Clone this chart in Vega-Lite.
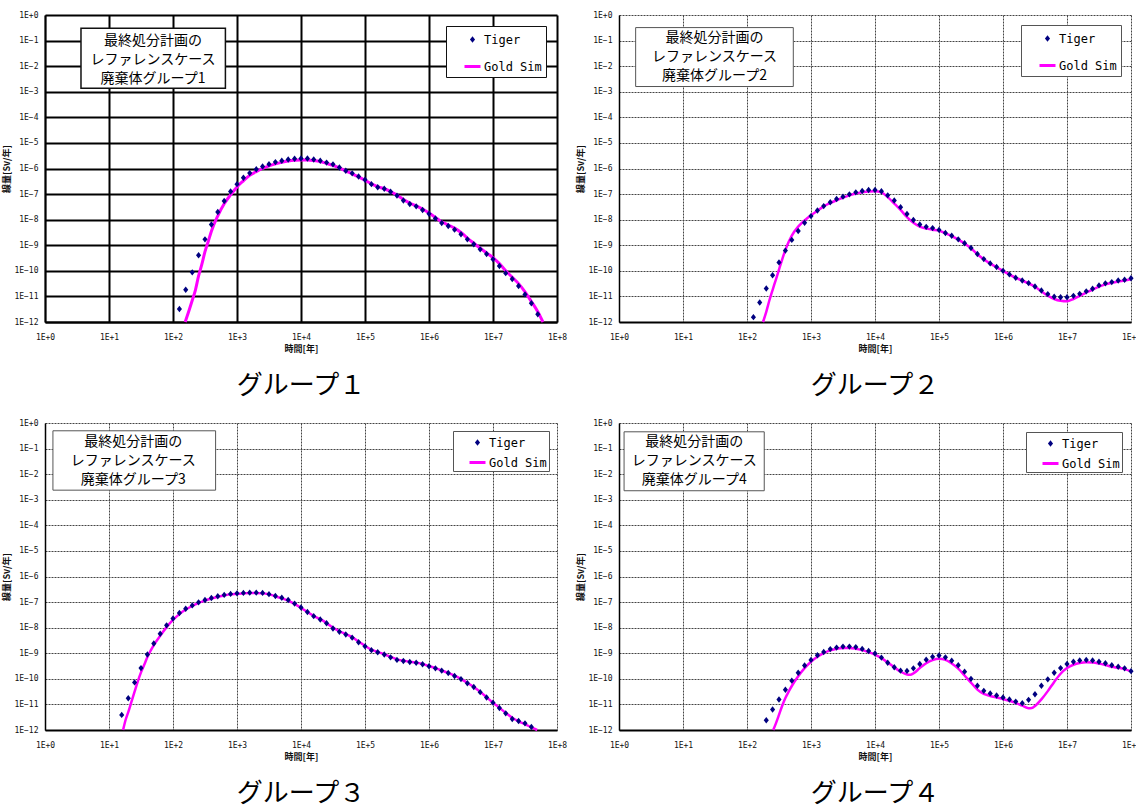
{
"$schema": "https://vega.github.io/schema/vega-lite/v6.json",
"background": "white",
"padding": {"left": 2, "top": 11, "right": 0, "bottom": 0},
"config": {
  "view": {"stroke": null},
  "font": "Noto Sans CJK JP",
  "axis": {"labelFont": "DejaVu Sans Mono", "labelFontSize": 8, "labelColor": "#111", "ticks": false, "labelFlush": false, "labelOverlap": false, "titleFont": "Noto Sans CJK JP", "titleFontSize": 9, "titleFontWeight": "bold", "titleColor": "#111", "grid": true, "gridColor": "#444", "gridDash": [2, 1], "gridWidth": 1, "domainColor": "black"},
  "axisX": {"labelPadding": 11, "titlePadding": 3, "domainWidth": 2},
  "axisY": {"labelPadding": 7, "titlePadding": 2, "domainWidth": 1.5},
  "legend": {"labelFont": "DejaVu Sans Mono", "labelFontSize": 12, "labelColor": "black", "symbolSize": 256, "symbolStrokeWidth": 3, "symbolOffset": 13, "labelOffset": 2}
},
"datasets": {
"t1": [{"s":"Tiger","t":1.26e2,"d":3.24e-12},{"s":"Tiger","t":1.58e2,"d":1.82e-11},{"s":"Tiger","t":2.0e2,"d":8.71e-11},{"s":"Tiger","t":2.51e2,"d":4.07e-10},{"s":"Tiger","t":3.16e2,"d":1.70e-9},{"s":"Tiger","t":3.98e2,"d":6.46e-9},{"s":"Tiger","t":5.01e2,"d":2.0e-8},{"s":"Tiger","t":6.31e2,"d":5.37e-8},{"s":"Tiger","t":7.94e2,"d":1.26e-7},{"s":"Tiger","t":1.0e3,"d":2.45e-7},{"s":"Tiger","t":1.26e3,"d":4.37e-7},{"s":"Tiger","t":1.58e3,"d":6.61e-7},{"s":"Tiger","t":2.0e3,"d":9.33e-7},{"s":"Tiger","t":2.51e3,"d":1.20e-6},{"s":"Tiger","t":3.16e3,"d":1.48e-6},{"s":"Tiger","t":3.98e3,"d":1.78e-6},{"s":"Tiger","t":5.01e3,"d":2.0e-6},{"s":"Tiger","t":6.31e3,"d":2.24e-6},{"s":"Tiger","t":7.94e3,"d":2.40e-6},{"s":"Tiger","t":1.0e4,"d":2.45e-6},{"s":"Tiger","t":1.26e4,"d":2.45e-6},{"s":"Tiger","t":1.58e4,"d":2.24e-6},{"s":"Tiger","t":2.0e4,"d":2.0e-6},{"s":"Tiger","t":2.51e4,"d":1.70e-6},{"s":"Tiger","t":3.16e4,"d":1.45e-6},{"s":"Tiger","t":3.98e4,"d":1.10e-6},{"s":"Tiger","t":5.01e4,"d":8.13e-7},{"s":"Tiger","t":6.31e4,"d":6.46e-7},{"s":"Tiger","t":7.94e4,"d":4.90e-7},{"s":"Tiger","t":1.0e5,"d":3.63e-7},{"s":"Tiger","t":1.26e5,"d":2.45e-7},{"s":"Tiger","t":1.58e5,"d":1.86e-7},{"s":"Tiger","t":2.0e5,"d":1.62e-7},{"s":"Tiger","t":2.51e5,"d":1.23e-7},{"s":"Tiger","t":3.16e5,"d":8.71e-8},{"s":"Tiger","t":3.98e5,"d":5.62e-8},{"s":"Tiger","t":5.01e5,"d":4.07e-8},{"s":"Tiger","t":6.31e5,"d":3.31e-8},{"s":"Tiger","t":7.94e5,"d":2.40e-8},{"s":"Tiger","t":1.0e6,"d":1.70e-8},{"s":"Tiger","t":1.26e6,"d":1.12e-8},{"s":"Tiger","t":1.58e6,"d":7.41e-9},{"s":"Tiger","t":2.0e6,"d":5.62e-9},{"s":"Tiger","t":2.51e6,"d":4.07e-9},{"s":"Tiger","t":3.16e6,"d":2.69e-9},{"s":"Tiger","t":3.98e6,"d":1.70e-9},{"s":"Tiger","t":5.01e6,"d":1.10e-9},{"s":"Tiger","t":6.31e6,"d":6.92e-10},{"s":"Tiger","t":7.94e6,"d":4.57e-10},{"s":"Tiger","t":1.0e7,"d":2.82e-10},{"s":"Tiger","t":1.26e7,"d":1.55e-10},{"s":"Tiger","t":1.58e7,"d":8.13e-11},{"s":"Tiger","t":2.0e7,"d":4.79e-11},{"s":"Tiger","t":2.51e7,"d":2.57e-11},{"s":"Tiger","t":3.16e7,"d":1.20e-11},{"s":"Tiger","t":3.98e7,"d":5.37e-12},{"s":"Tiger","t":5.01e7,"d":2.0e-12}],
"g1": [{"s":"Gold Sim","t":1.55e2,"d":1.0e-12},{"s":"Gold Sim","t":1.78e2,"d":2.82e-12},{"s":"Gold Sim","t":2.0e2,"d":7.08e-12},{"s":"Gold Sim","t":2.24e2,"d":1.78e-11},{"s":"Gold Sim","t":2.51e2,"d":6.31e-11},{"s":"Gold Sim","t":2.82e2,"d":1.78e-10},{"s":"Gold Sim","t":3.16e2,"d":5.62e-10},{"s":"Gold Sim","t":3.55e2,"d":1.41e-9},{"s":"Gold Sim","t":3.98e2,"d":3.55e-9},{"s":"Gold Sim","t":5.01e2,"d":1.41e-8},{"s":"Gold Sim","t":6.31e2,"d":4.17e-8},{"s":"Gold Sim","t":7.94e2,"d":9.33e-8},{"s":"Gold Sim","t":1.0e3,"d":1.91e-7},{"s":"Gold Sim","t":1.26e3,"d":3.31e-7},{"s":"Gold Sim","t":1.58e3,"d":5.37e-7},{"s":"Gold Sim","t":2.0e3,"d":7.59e-7},{"s":"Gold Sim","t":2.51e3,"d":1.0e-6},{"s":"Gold Sim","t":3.16e3,"d":1.26e-6},{"s":"Gold Sim","t":3.98e3,"d":1.51e-6},{"s":"Gold Sim","t":5.01e3,"d":1.74e-6},{"s":"Gold Sim","t":6.31e3,"d":1.95e-6},{"s":"Gold Sim","t":7.94e3,"d":2.09e-6},{"s":"Gold Sim","t":1.0e4,"d":2.14e-6},{"s":"Gold Sim","t":1.26e4,"d":2.14e-6},{"s":"Gold Sim","t":1.58e4,"d":2.04e-6},{"s":"Gold Sim","t":2.0e4,"d":1.86e-6},{"s":"Gold Sim","t":2.51e4,"d":1.58e-6},{"s":"Gold Sim","t":3.16e4,"d":1.32e-6},{"s":"Gold Sim","t":3.98e4,"d":1.05e-6},{"s":"Gold Sim","t":5.01e4,"d":7.94e-7},{"s":"Gold Sim","t":6.31e4,"d":6.17e-7},{"s":"Gold Sim","t":7.94e4,"d":4.68e-7},{"s":"Gold Sim","t":1.0e5,"d":3.47e-7},{"s":"Gold Sim","t":1.26e5,"d":2.51e-7},{"s":"Gold Sim","t":1.58e5,"d":1.95e-7},{"s":"Gold Sim","t":2.0e5,"d":1.62e-7},{"s":"Gold Sim","t":2.51e5,"d":1.26e-7},{"s":"Gold Sim","t":3.16e5,"d":9.12e-8},{"s":"Gold Sim","t":3.98e5,"d":6.17e-8},{"s":"Gold Sim","t":5.01e5,"d":4.47e-8},{"s":"Gold Sim","t":6.31e5,"d":3.47e-8},{"s":"Gold Sim","t":7.94e5,"d":2.57e-8},{"s":"Gold Sim","t":1.0e6,"d":1.82e-8},{"s":"Gold Sim","t":1.26e6,"d":1.23e-8},{"s":"Gold Sim","t":1.58e6,"d":8.32e-9},{"s":"Gold Sim","t":2.0e6,"d":6.17e-9},{"s":"Gold Sim","t":2.51e6,"d":4.68e-9},{"s":"Gold Sim","t":3.16e6,"d":3.16e-9},{"s":"Gold Sim","t":3.98e6,"d":1.91e-9},{"s":"Gold Sim","t":5.01e6,"d":1.20e-9},{"s":"Gold Sim","t":6.31e6,"d":7.59e-10},{"s":"Gold Sim","t":7.94e6,"d":5.01e-10},{"s":"Gold Sim","t":1.0e7,"d":3.31e-10},{"s":"Gold Sim","t":1.26e7,"d":1.91e-10},{"s":"Gold Sim","t":1.58e7,"d":1.0e-10},{"s":"Gold Sim","t":2.0e7,"d":5.62e-11},{"s":"Gold Sim","t":2.51e7,"d":3.16e-11},{"s":"Gold Sim","t":3.16e7,"d":1.51e-11},{"s":"Gold Sim","t":3.98e7,"d":6.31e-12},{"s":"Gold Sim","t":5.01e7,"d":2.51e-12},{"s":"Gold Sim","t":6.03e7,"d":1.0e-12}],
"t2": [{"s":"Tiger","t":1.26e2,"d":1.55e-12},{"s":"Tiger","t":1.58e2,"d":5.75e-12},{"s":"Tiger","t":2.0e2,"d":2.04e-11},{"s":"Tiger","t":2.51e2,"d":6.76e-11},{"s":"Tiger","t":3.16e2,"d":2.14e-10},{"s":"Tiger","t":3.98e2,"d":6.17e-10},{"s":"Tiger","t":5.01e2,"d":1.62e-9},{"s":"Tiger","t":6.31e2,"d":3.63e-9},{"s":"Tiger","t":7.94e2,"d":7.59e-9},{"s":"Tiger","t":1.0e3,"d":1.38e-8},{"s":"Tiger","t":1.26e3,"d":2.29e-8},{"s":"Tiger","t":1.58e3,"d":3.39e-8},{"s":"Tiger","t":2.0e3,"d":4.79e-8},{"s":"Tiger","t":2.51e3,"d":6.46e-8},{"s":"Tiger","t":3.16e3,"d":7.94e-8},{"s":"Tiger","t":3.98e3,"d":9.77e-8},{"s":"Tiger","t":5.01e3,"d":1.17e-7},{"s":"Tiger","t":6.31e3,"d":1.32e-7},{"s":"Tiger","t":7.94e3,"d":1.45e-7},{"s":"Tiger","t":1.0e4,"d":1.45e-7},{"s":"Tiger","t":1.26e4,"d":1.29e-7},{"s":"Tiger","t":1.58e4,"d":8.91e-8},{"s":"Tiger","t":2.0e4,"d":5.62e-8},{"s":"Tiger","t":2.51e4,"d":3.09e-8},{"s":"Tiger","t":3.16e4,"d":1.66e-8},{"s":"Tiger","t":3.98e4,"d":9.77e-9},{"s":"Tiger","t":5.01e4,"d":6.46e-9},{"s":"Tiger","t":6.31e4,"d":5.25e-9},{"s":"Tiger","t":7.94e4,"d":4.68e-9},{"s":"Tiger","t":1.0e5,"d":3.98e-9},{"s":"Tiger","t":1.26e5,"d":3.02e-9},{"s":"Tiger","t":1.58e5,"d":2.34e-9},{"s":"Tiger","t":2.0e5,"d":1.70e-9},{"s":"Tiger","t":2.51e5,"d":1.20e-9},{"s":"Tiger","t":3.16e5,"d":7.76e-10},{"s":"Tiger","t":3.98e5,"d":4.57e-10},{"s":"Tiger","t":5.01e5,"d":2.88e-10},{"s":"Tiger","t":6.31e5,"d":1.95e-10},{"s":"Tiger","t":7.94e5,"d":1.41e-10},{"s":"Tiger","t":1.0e6,"d":1.0e-10},{"s":"Tiger","t":1.26e6,"d":7.24e-11},{"s":"Tiger","t":1.58e6,"d":5.37e-11},{"s":"Tiger","t":2.0e6,"d":4.17e-11},{"s":"Tiger","t":2.51e6,"d":3.31e-11},{"s":"Tiger","t":3.16e6,"d":2.45e-11},{"s":"Tiger","t":3.98e6,"d":1.70e-11},{"s":"Tiger","t":5.01e6,"d":1.23e-11},{"s":"Tiger","t":6.31e6,"d":9.77e-12},{"s":"Tiger","t":7.94e6,"d":9.33e-12},{"s":"Tiger","t":1.0e7,"d":9.33e-12},{"s":"Tiger","t":1.26e7,"d":1.05e-11},{"s":"Tiger","t":1.58e7,"d":1.26e-11},{"s":"Tiger","t":2.0e7,"d":1.58e-11},{"s":"Tiger","t":2.51e7,"d":2.0e-11},{"s":"Tiger","t":3.16e7,"d":2.69e-11},{"s":"Tiger","t":3.98e7,"d":3.24e-11},{"s":"Tiger","t":5.01e7,"d":3.63e-11},{"s":"Tiger","t":6.31e7,"d":4.17e-11},{"s":"Tiger","t":7.94e7,"d":4.47e-11},{"s":"Tiger","t":1.0e8,"d":5.13e-11}],
"g2": [{"s":"Gold Sim","t":1.78e2,"d":1.0e-12},{"s":"Gold Sim","t":2.0e2,"d":2.51e-12},{"s":"Gold Sim","t":2.24e2,"d":7.08e-12},{"s":"Gold Sim","t":2.51e2,"d":1.78e-11},{"s":"Gold Sim","t":2.82e2,"d":4.47e-11},{"s":"Gold Sim","t":3.16e2,"d":1.12e-10},{"s":"Gold Sim","t":3.55e2,"d":2.82e-10},{"s":"Gold Sim","t":3.98e2,"d":6.61e-10},{"s":"Gold Sim","t":5.01e2,"d":2.40e-9},{"s":"Gold Sim","t":6.31e2,"d":5.37e-9},{"s":"Gold Sim","t":7.94e2,"d":9.33e-9},{"s":"Gold Sim","t":1.0e3,"d":1.48e-8},{"s":"Gold Sim","t":1.26e3,"d":2.24e-8},{"s":"Gold Sim","t":1.58e3,"d":3.31e-8},{"s":"Gold Sim","t":2.0e3,"d":4.47e-8},{"s":"Gold Sim","t":2.51e3,"d":5.75e-8},{"s":"Gold Sim","t":3.16e3,"d":7.24e-8},{"s":"Gold Sim","t":3.98e3,"d":8.91e-8},{"s":"Gold Sim","t":5.01e3,"d":1.05e-7},{"s":"Gold Sim","t":6.31e3,"d":1.17e-7},{"s":"Gold Sim","t":7.94e3,"d":1.26e-7},{"s":"Gold Sim","t":1.0e4,"d":1.29e-7},{"s":"Gold Sim","t":1.26e4,"d":1.17e-7},{"s":"Gold Sim","t":1.58e4,"d":7.59e-8},{"s":"Gold Sim","t":2.0e4,"d":4.27e-8},{"s":"Gold Sim","t":2.51e4,"d":2.40e-8},{"s":"Gold Sim","t":3.16e4,"d":1.26e-8},{"s":"Gold Sim","t":3.98e4,"d":7.59e-9},{"s":"Gold Sim","t":5.01e4,"d":5.37e-9},{"s":"Gold Sim","t":6.31e4,"d":4.47e-9},{"s":"Gold Sim","t":7.94e4,"d":4.07e-9},{"s":"Gold Sim","t":1.0e5,"d":3.72e-9},{"s":"Gold Sim","t":1.26e5,"d":2.95e-9},{"s":"Gold Sim","t":1.58e5,"d":2.29e-9},{"s":"Gold Sim","t":2.0e5,"d":1.66e-9},{"s":"Gold Sim","t":2.51e5,"d":1.17e-9},{"s":"Gold Sim","t":3.16e5,"d":7.59e-10},{"s":"Gold Sim","t":3.98e5,"d":4.47e-10},{"s":"Gold Sim","t":5.01e5,"d":2.82e-10},{"s":"Gold Sim","t":6.31e5,"d":1.91e-10},{"s":"Gold Sim","t":7.94e5,"d":1.38e-10},{"s":"Gold Sim","t":1.0e6,"d":1.0e-10},{"s":"Gold Sim","t":1.26e6,"d":7.24e-11},{"s":"Gold Sim","t":1.58e6,"d":5.37e-11},{"s":"Gold Sim","t":2.0e6,"d":4.17e-11},{"s":"Gold Sim","t":2.51e6,"d":3.24e-11},{"s":"Gold Sim","t":3.16e6,"d":2.40e-11},{"s":"Gold Sim","t":3.98e6,"d":1.58e-11},{"s":"Gold Sim","t":5.01e6,"d":1.07e-11},{"s":"Gold Sim","t":6.31e6,"d":7.94e-12},{"s":"Gold Sim","t":7.94e6,"d":6.76e-12},{"s":"Gold Sim","t":1.0e7,"d":6.46e-12},{"s":"Gold Sim","t":1.26e7,"d":7.94e-12},{"s":"Gold Sim","t":1.58e7,"d":1.05e-11},{"s":"Gold Sim","t":2.0e7,"d":1.41e-11},{"s":"Gold Sim","t":2.51e7,"d":1.86e-11},{"s":"Gold Sim","t":3.16e7,"d":2.40e-11},{"s":"Gold Sim","t":3.98e7,"d":2.95e-11},{"s":"Gold Sim","t":5.01e7,"d":3.39e-11},{"s":"Gold Sim","t":6.31e7,"d":3.80e-11},{"s":"Gold Sim","t":7.94e7,"d":4.17e-11},{"s":"Gold Sim","t":1.0e8,"d":4.68e-11}],
"t3": [{"s":"Tiger","t":1.58e1,"d":3.89e-12},{"s":"Tiger","t":2.0e1,"d":1.74e-11},{"s":"Tiger","t":2.51e1,"d":7.24e-11},{"s":"Tiger","t":3.16e1,"d":2.63e-10},{"s":"Tiger","t":3.98e1,"d":8.91e-10},{"s":"Tiger","t":5.01e1,"d":2.40e-9},{"s":"Tiger","t":6.31e1,"d":5.75e-9},{"s":"Tiger","t":7.94e1,"d":1.23e-8},{"s":"Tiger","t":1.0e2,"d":2.29e-8},{"s":"Tiger","t":1.26e2,"d":3.72e-8},{"s":"Tiger","t":1.58e2,"d":5.50e-8},{"s":"Tiger","t":2.0e2,"d":7.41e-8},{"s":"Tiger","t":2.51e2,"d":9.77e-8},{"s":"Tiger","t":3.16e2,"d":1.20e-7},{"s":"Tiger","t":3.98e2,"d":1.45e-7},{"s":"Tiger","t":5.01e2,"d":1.70e-7},{"s":"Tiger","t":6.31e2,"d":1.91e-7},{"s":"Tiger","t":7.94e2,"d":2.09e-7},{"s":"Tiger","t":1.0e3,"d":2.19e-7},{"s":"Tiger","t":1.26e3,"d":2.29e-7},{"s":"Tiger","t":1.58e3,"d":2.34e-7},{"s":"Tiger","t":2.0e3,"d":2.34e-7},{"s":"Tiger","t":2.51e3,"d":2.29e-7},{"s":"Tiger","t":3.16e3,"d":2.04e-7},{"s":"Tiger","t":3.98e3,"d":1.74e-7},{"s":"Tiger","t":5.01e3,"d":1.48e-7},{"s":"Tiger","t":6.31e3,"d":1.20e-7},{"s":"Tiger","t":7.94e3,"d":8.71e-8},{"s":"Tiger","t":1.0e4,"d":6.17e-8},{"s":"Tiger","t":1.26e4,"d":4.07e-8},{"s":"Tiger","t":1.58e4,"d":2.82e-8},{"s":"Tiger","t":2.0e4,"d":2.09e-8},{"s":"Tiger","t":2.51e4,"d":1.48e-8},{"s":"Tiger","t":3.16e4,"d":9.33e-9},{"s":"Tiger","t":3.98e4,"d":6.92e-9},{"s":"Tiger","t":5.01e4,"d":5.37e-9},{"s":"Tiger","t":6.31e4,"d":4.07e-9},{"s":"Tiger","t":7.94e4,"d":2.69e-9},{"s":"Tiger","t":1.0e5,"d":1.86e-9},{"s":"Tiger","t":1.26e5,"d":1.32e-9},{"s":"Tiger","t":1.58e5,"d":1.10e-9},{"s":"Tiger","t":2.0e5,"d":8.91e-10},{"s":"Tiger","t":2.51e5,"d":6.92e-10},{"s":"Tiger","t":3.16e5,"d":5.50e-10},{"s":"Tiger","t":3.98e5,"d":5.01e-10},{"s":"Tiger","t":5.01e5,"d":4.57e-10},{"s":"Tiger","t":6.31e5,"d":4.27e-10},{"s":"Tiger","t":7.94e5,"d":3.72e-10},{"s":"Tiger","t":1.0e6,"d":3.09e-10},{"s":"Tiger","t":1.26e6,"d":2.57e-10},{"s":"Tiger","t":1.58e6,"d":2.09e-10},{"s":"Tiger","t":2.0e6,"d":1.70e-10},{"s":"Tiger","t":2.51e6,"d":1.29e-10},{"s":"Tiger","t":3.16e6,"d":9.77e-11},{"s":"Tiger","t":3.98e6,"d":6.76e-11},{"s":"Tiger","t":5.01e6,"d":4.79e-11},{"s":"Tiger","t":6.31e6,"d":3.02e-11},{"s":"Tiger","t":7.94e6,"d":1.86e-11},{"s":"Tiger","t":1.0e7,"d":1.17e-11},{"s":"Tiger","t":1.26e7,"d":7.24e-12},{"s":"Tiger","t":1.58e7,"d":4.47e-12},{"s":"Tiger","t":2.0e7,"d":2.69e-12},{"s":"Tiger","t":2.51e7,"d":2.24e-12},{"s":"Tiger","t":3.16e7,"d":1.82e-12},{"s":"Tiger","t":3.98e7,"d":1.32e-12}],
"g3": [{"s":"Gold Sim","t":1.66e1,"d":1.0e-12},{"s":"Gold Sim","t":1.82e1,"d":2.51e-12},{"s":"Gold Sim","t":2.0e1,"d":5.01e-12},{"s":"Gold Sim","t":2.24e1,"d":1.26e-11},{"s":"Gold Sim","t":2.51e1,"d":3.16e-11},{"s":"Gold Sim","t":2.82e1,"d":7.94e-11},{"s":"Gold Sim","t":3.16e1,"d":1.78e-10},{"s":"Gold Sim","t":3.55e1,"d":3.55e-10},{"s":"Gold Sim","t":3.98e1,"d":7.08e-10},{"s":"Gold Sim","t":4.47e1,"d":1.26e-9},{"s":"Gold Sim","t":5.01e1,"d":2.09e-9},{"s":"Gold Sim","t":6.31e1,"d":4.79e-9},{"s":"Gold Sim","t":7.94e1,"d":1.05e-8},{"s":"Gold Sim","t":1.0e2,"d":2.0e-8},{"s":"Gold Sim","t":1.26e2,"d":3.39e-8},{"s":"Gold Sim","t":1.58e2,"d":5.13e-8},{"s":"Gold Sim","t":2.0e2,"d":7.08e-8},{"s":"Gold Sim","t":2.51e2,"d":9.33e-8},{"s":"Gold Sim","t":3.16e2,"d":1.15e-7},{"s":"Gold Sim","t":3.98e2,"d":1.38e-7},{"s":"Gold Sim","t":5.01e2,"d":1.62e-7},{"s":"Gold Sim","t":6.31e2,"d":1.82e-7},{"s":"Gold Sim","t":7.94e2,"d":2.0e-7},{"s":"Gold Sim","t":1.0e3,"d":2.09e-7},{"s":"Gold Sim","t":1.26e3,"d":2.19e-7},{"s":"Gold Sim","t":1.58e3,"d":2.24e-7},{"s":"Gold Sim","t":2.0e3,"d":2.24e-7},{"s":"Gold Sim","t":2.51e3,"d":2.19e-7},{"s":"Gold Sim","t":3.16e3,"d":2.0e-7},{"s":"Gold Sim","t":3.98e3,"d":1.70e-7},{"s":"Gold Sim","t":5.01e3,"d":1.41e-7},{"s":"Gold Sim","t":6.31e3,"d":1.15e-7},{"s":"Gold Sim","t":7.94e3,"d":8.51e-8},{"s":"Gold Sim","t":1.0e4,"d":6.03e-8},{"s":"Gold Sim","t":1.26e4,"d":4.07e-8},{"s":"Gold Sim","t":1.58e4,"d":2.88e-8},{"s":"Gold Sim","t":2.0e4,"d":2.14e-8},{"s":"Gold Sim","t":2.51e4,"d":1.51e-8},{"s":"Gold Sim","t":3.16e4,"d":1.0e-8},{"s":"Gold Sim","t":3.98e4,"d":7.24e-9},{"s":"Gold Sim","t":5.01e4,"d":5.62e-9},{"s":"Gold Sim","t":6.31e4,"d":4.27e-9},{"s":"Gold Sim","t":7.94e4,"d":2.88e-9},{"s":"Gold Sim","t":1.0e5,"d":1.95e-9},{"s":"Gold Sim","t":1.26e5,"d":1.38e-9},{"s":"Gold Sim","t":1.58e5,"d":1.12e-9},{"s":"Gold Sim","t":2.0e5,"d":9.12e-10},{"s":"Gold Sim","t":2.51e5,"d":7.24e-10},{"s":"Gold Sim","t":3.16e5,"d":5.75e-10},{"s":"Gold Sim","t":3.98e5,"d":5.13e-10},{"s":"Gold Sim","t":5.01e5,"d":4.68e-10},{"s":"Gold Sim","t":6.31e5,"d":4.27e-10},{"s":"Gold Sim","t":7.94e5,"d":3.80e-10},{"s":"Gold Sim","t":1.0e6,"d":3.16e-10},{"s":"Gold Sim","t":1.26e6,"d":2.63e-10},{"s":"Gold Sim","t":1.58e6,"d":2.14e-10},{"s":"Gold Sim","t":2.0e6,"d":1.70e-10},{"s":"Gold Sim","t":2.51e6,"d":1.32e-10},{"s":"Gold Sim","t":3.16e6,"d":9.77e-11},{"s":"Gold Sim","t":3.98e6,"d":6.92e-11},{"s":"Gold Sim","t":5.01e6,"d":4.79e-11},{"s":"Gold Sim","t":6.31e6,"d":3.09e-11},{"s":"Gold Sim","t":7.94e6,"d":1.91e-11},{"s":"Gold Sim","t":1.0e7,"d":1.17e-11},{"s":"Gold Sim","t":1.26e7,"d":7.41e-12},{"s":"Gold Sim","t":1.58e7,"d":4.68e-12},{"s":"Gold Sim","t":2.0e7,"d":3.02e-12},{"s":"Gold Sim","t":2.51e7,"d":2.19e-12},{"s":"Gold Sim","t":3.16e7,"d":1.70e-12},{"s":"Gold Sim","t":3.98e7,"d":1.26e-12},{"s":"Gold Sim","t":4.90e7,"d":1.0e-12}],
"t4": [{"s":"Tiger","t":2.0e2,"d":2.40e-12},{"s":"Tiger","t":2.51e2,"d":6.31e-12},{"s":"Tiger","t":3.16e2,"d":1.55e-11},{"s":"Tiger","t":3.98e2,"d":3.72e-11},{"s":"Tiger","t":5.01e2,"d":8.51e-11},{"s":"Tiger","t":6.31e2,"d":1.74e-10},{"s":"Tiger","t":7.94e2,"d":3.31e-10},{"s":"Tiger","t":1.0e3,"d":5.50e-10},{"s":"Tiger","t":1.26e3,"d":8.32e-10},{"s":"Tiger","t":1.58e3,"d":1.12e-9},{"s":"Tiger","t":2.0e3,"d":1.45e-9},{"s":"Tiger","t":2.51e3,"d":1.66e-9},{"s":"Tiger","t":3.16e3,"d":1.82e-9},{"s":"Tiger","t":3.98e3,"d":1.82e-9},{"s":"Tiger","t":5.01e3,"d":1.74e-9},{"s":"Tiger","t":6.31e3,"d":1.48e-9},{"s":"Tiger","t":7.94e3,"d":1.23e-9},{"s":"Tiger","t":1.0e4,"d":9.77e-10},{"s":"Tiger","t":1.26e4,"d":6.76e-10},{"s":"Tiger","t":1.58e4,"d":4.27e-10},{"s":"Tiger","t":2.0e4,"d":2.82e-10},{"s":"Tiger","t":2.51e4,"d":2.09e-10},{"s":"Tiger","t":3.16e4,"d":2.04e-10},{"s":"Tiger","t":3.98e4,"d":2.57e-10},{"s":"Tiger","t":5.01e4,"d":3.80e-10},{"s":"Tiger","t":6.31e4,"d":5.62e-10},{"s":"Tiger","t":7.94e4,"d":7.24e-10},{"s":"Tiger","t":1.0e5,"d":8.13e-10},{"s":"Tiger","t":1.26e5,"d":6.92e-10},{"s":"Tiger","t":1.58e5,"d":5.13e-10},{"s":"Tiger","t":2.0e5,"d":3.39e-10},{"s":"Tiger","t":2.51e5,"d":1.91e-10},{"s":"Tiger","t":3.16e5,"d":1.0e-10},{"s":"Tiger","t":3.98e5,"d":5.37e-11},{"s":"Tiger","t":5.01e5,"d":3.39e-11},{"s":"Tiger","t":6.31e5,"d":2.69e-11},{"s":"Tiger","t":7.94e5,"d":2.24e-11},{"s":"Tiger","t":1.0e6,"d":1.86e-11},{"s":"Tiger","t":1.26e6,"d":1.55e-11},{"s":"Tiger","t":1.58e6,"d":1.29e-11},{"s":"Tiger","t":2.0e6,"d":1.12e-11},{"s":"Tiger","t":2.51e6,"d":1.51e-11},{"s":"Tiger","t":3.16e6,"d":2.51e-11},{"s":"Tiger","t":3.98e6,"d":5.37e-11},{"s":"Tiger","t":5.01e6,"d":9.55e-11},{"s":"Tiger","t":6.31e6,"d":1.74e-10},{"s":"Tiger","t":7.94e6,"d":2.63e-10},{"s":"Tiger","t":1.0e7,"d":3.80e-10},{"s":"Tiger","t":1.26e7,"d":4.68e-10},{"s":"Tiger","t":1.58e7,"d":5.25e-10},{"s":"Tiger","t":2.0e7,"d":5.50e-10},{"s":"Tiger","t":2.51e7,"d":5.25e-10},{"s":"Tiger","t":3.16e7,"d":4.68e-10},{"s":"Tiger","t":3.98e7,"d":4.07e-10},{"s":"Tiger","t":5.01e7,"d":3.39e-10},{"s":"Tiger","t":6.31e7,"d":2.95e-10},{"s":"Tiger","t":7.94e7,"d":2.57e-10},{"s":"Tiger","t":1.0e8,"d":2.0e-10}],
"g4": [{"s":"Gold Sim","t":2.57e2,"d":1.0e-12},{"s":"Gold Sim","t":2.82e2,"d":1.78e-12},{"s":"Gold Sim","t":3.16e2,"d":3.89e-12},{"s":"Gold Sim","t":3.55e2,"d":8.91e-12},{"s":"Gold Sim","t":3.98e2,"d":1.78e-11},{"s":"Gold Sim","t":4.47e2,"d":3.16e-11},{"s":"Gold Sim","t":5.01e2,"d":5.25e-11},{"s":"Gold Sim","t":6.31e2,"d":1.26e-10},{"s":"Gold Sim","t":7.94e2,"d":2.63e-10},{"s":"Gold Sim","t":1.0e3,"d":4.68e-10},{"s":"Gold Sim","t":1.26e3,"d":7.24e-10},{"s":"Gold Sim","t":1.58e3,"d":1.02e-9},{"s":"Gold Sim","t":2.0e3,"d":1.29e-9},{"s":"Gold Sim","t":2.51e3,"d":1.51e-9},{"s":"Gold Sim","t":3.16e3,"d":1.62e-9},{"s":"Gold Sim","t":3.98e3,"d":1.62e-9},{"s":"Gold Sim","t":5.01e3,"d":1.51e-9},{"s":"Gold Sim","t":6.31e3,"d":1.32e-9},{"s":"Gold Sim","t":7.94e3,"d":1.10e-9},{"s":"Gold Sim","t":1.0e4,"d":8.91e-10},{"s":"Gold Sim","t":1.26e4,"d":6.46e-10},{"s":"Gold Sim","t":1.58e4,"d":4.37e-10},{"s":"Gold Sim","t":2.0e4,"d":2.82e-10},{"s":"Gold Sim","t":2.51e4,"d":1.91e-10},{"s":"Gold Sim","t":3.16e4,"d":1.48e-10},{"s":"Gold Sim","t":3.55e4,"d":1.45e-10},{"s":"Gold Sim","t":3.98e4,"d":1.62e-10},{"s":"Gold Sim","t":5.01e4,"d":2.63e-10},{"s":"Gold Sim","t":6.31e4,"d":4.07e-10},{"s":"Gold Sim","t":7.94e4,"d":5.37e-10},{"s":"Gold Sim","t":1.0e5,"d":6.03e-10},{"s":"Gold Sim","t":1.26e5,"d":5.50e-10},{"s":"Gold Sim","t":1.58e5,"d":3.98e-10},{"s":"Gold Sim","t":2.0e5,"d":2.51e-10},{"s":"Gold Sim","t":2.51e5,"d":1.35e-10},{"s":"Gold Sim","t":3.16e5,"d":7.08e-11},{"s":"Gold Sim","t":3.98e5,"d":3.80e-11},{"s":"Gold Sim","t":5.01e5,"d":2.57e-11},{"s":"Gold Sim","t":6.31e5,"d":2.14e-11},{"s":"Gold Sim","t":7.94e5,"d":1.86e-11},{"s":"Gold Sim","t":1.0e6,"d":1.62e-11},{"s":"Gold Sim","t":1.26e6,"d":1.38e-11},{"s":"Gold Sim","t":1.58e6,"d":1.15e-11},{"s":"Gold Sim","t":2.0e6,"d":8.91e-12},{"s":"Gold Sim","t":2.51e6,"d":7.08e-12},{"s":"Gold Sim","t":2.82e6,"d":7.24e-12},{"s":"Gold Sim","t":3.16e6,"d":8.71e-12},{"s":"Gold Sim","t":3.98e6,"d":1.58e-11},{"s":"Gold Sim","t":5.01e6,"d":3.31e-11},{"s":"Gold Sim","t":6.31e6,"d":7.59e-11},{"s":"Gold Sim","t":7.94e6,"d":1.58e-10},{"s":"Gold Sim","t":1.0e7,"d":2.63e-10},{"s":"Gold Sim","t":1.26e7,"d":3.55e-10},{"s":"Gold Sim","t":1.58e7,"d":4.17e-10},{"s":"Gold Sim","t":2.0e7,"d":4.47e-10},{"s":"Gold Sim","t":2.51e7,"d":4.37e-10},{"s":"Gold Sim","t":3.16e7,"d":3.98e-10},{"s":"Gold Sim","t":3.98e7,"d":3.47e-10},{"s":"Gold Sim","t":5.01e7,"d":2.95e-10},{"s":"Gold Sim","t":6.31e7,"d":2.69e-10},{"s":"Gold Sim","t":7.94e7,"d":2.40e-10},{"s":"Gold Sim","t":1.0e8,"d":1.95e-10}]
},
"columns": 2,
"spacing": {"row": 20, "column": 9},
"resolve": {"legend": {"fill": "independent", "stroke": "independent", "shape": "independent"}},
"concat": [
{
  "width": 512, "height": 307,
  "title": {"text": "グループ１", "orient": "bottom", "frame": "group", "anchor": "middle", "fontSize": 26, "fontWeight": "normal", "font": "Noto Sans CJK JP", "color": "black", "offset": 20},
  "layer": [
    {"data": {"values": [{"label": "最終処分計画の\nレファレンスケース\n廃棄体グループ1"}]},
     "mark": {"type": "rect", "fill": "white", "stroke": "#111", "strokeWidth": 1.5},
     "encoding": {"x": {"datum": 3.65, "type": "quantitative"}, "x2": {"datum": 659}, "y": {"datum": 0.302, "type": "quantitative"}, "y2": {"datum": 0.00137}}},
    {"data": {"values": [{"label": "最終処分計画の\nレファレンスケース\n廃棄体グループ1"}]},
     "mark": {"type": "text", "lineBreak": "\n", "lineHeight": 19, "fontSize": 14, "font": "Noto Sans CJK JP", "color": "black", "align": "center", "baseline": "middle"},
     "encoding": {"x": {"datum": 48.7, "type": "quantitative"}, "y": {"datum": 0.099, "type": "quantitative"}, "text": {"field": "label"}}},
    {"data": {"name": "g1"},
     "mark": {"type": "line", "strokeWidth": 3, "interpolate": "monotone"},
     "encoding": {
       "x": {"field": "t", "type": "quantitative", "scale": {"type": "log", "domain": [1, 100000000], "nice": false}, "axis": {"values": [1, 10, 100, 1000, 10000, 100000, 1000000, 10000000, 100000000], "labelExpr": "'1E+' + format(log(datum.value)/LN10, '.0f')", "title": "時間[年]", "gridColor": "black", "gridWidth": 2, "gridDash": []}},
       "y": {"field": "d", "type": "quantitative", "scale": {"type": "log", "domain": [1e-12, 1], "nice": false}, "axis": {"values": [1e-12, 1e-11, 1e-10, 1e-9, 1e-8, 1e-7, 1e-6, 1e-5, 1e-4, 1e-3, 1e-2, 1e-1, 1], "labelExpr": "'1E' + (datum.value >= 1 ? '+' : '') + format(log(datum.value)/LN10, '.0f')", "title": "線量[Sv/年]", "gridColor": "black", "gridWidth": 2, "gridDash": []}},
       "stroke": {"field": "s", "type": "nominal", "scale": {"domain": ["Tiger", "Gold Sim"], "range": ["transparent", "#ff00ff"]}, "legend": {"title": null, "orient": "top-right", "offset": 11, "padding": 4, "rowPadding": 8, "strokeColor": "#111", "fillColor": "white", "labelExpr": "datum.label + '  '"}}
     }},
    {"data": {"name": "t1"},
     "mark": {"type": "point", "filled": true, "opacity": 1, "size": 256},
     "encoding": {
       "x": {"field": "t", "type": "quantitative"},
       "y": {"field": "d", "type": "quantitative"},
       "fill": {"field": "s", "type": "nominal", "scale": {"domain": ["Tiger", "Gold Sim"], "range": ["#000080", "#ff00ff"]}, "legend": {"title": null, "orient": "top-right", "offset": 11, "padding": 4, "rowPadding": 8, "strokeColor": "#111", "fillColor": "white", "labelExpr": "datum.label + '  '"}},
       "stroke": {"field": "s", "type": "nominal"},
       "shape": {"field": "s", "type": "nominal", "scale": {"domain": ["Tiger", "Gold Sim"], "range": ["M0,-0.4L0.32,0L0,0.4L-0.32,0Z", "stroke"]}, "legend": {"title": null, "orient": "top-right", "offset": 11, "padding": 4, "rowPadding": 8, "strokeColor": "#111", "fillColor": "white", "labelExpr": "datum.label + '  '"}}
     }}
  ]
},
{
  "width": 512, "height": 307,
  "title": {"text": "グループ２", "orient": "bottom", "frame": "group", "anchor": "middle", "fontSize": 26, "fontWeight": "normal", "font": "Noto Sans CJK JP", "color": "black", "offset": 20},
  "layer": [
    {"data": {"values": [{"label": "最終処分計画の\nレファレンスケース\n廃棄体グループ2"}]},
     "mark": {"type": "rect", "fill": "white", "stroke": "#555", "strokeWidth": 1},
     "encoding": {"x": {"datum": 1.82, "type": "quantitative"}, "x2": {"datum": 529}, "y": {"datum": 0.322, "type": "quantitative"}, "y2": {"datum": 0.0016}}},
    {"data": {"values": [{"label": "最終処分計画の\nレファレンスケース\n廃棄体グループ2"}]},
     "mark": {"type": "text", "lineBreak": "\n", "lineHeight": 19, "fontSize": 14, "font": "Noto Sans CJK JP", "color": "black", "align": "center", "baseline": "middle"},
     "encoding": {"x": {"datum": 31.0, "type": "quantitative"}, "y": {"datum": 0.123, "type": "quantitative"}, "text": {"field": "label"}}},
    {"data": {"name": "g2"},
     "mark": {"type": "line", "strokeWidth": 2.5, "interpolate": "monotone"},
     "encoding": {
       "x": {"field": "t", "type": "quantitative", "scale": {"type": "log", "domain": [1, 100000000], "nice": false}, "axis": {"values": [1, 10, 100, 1000, 10000, 100000, 1000000, 10000000, 100000000], "labelExpr": "'1E+' + format(log(datum.value)/LN10, '.0f')", "title": "時間[年]"}},
       "y": {"field": "d", "type": "quantitative", "scale": {"type": "log", "domain": [1e-12, 1], "nice": false}, "axis": {"values": [1e-12, 1e-11, 1e-10, 1e-9, 1e-8, 1e-7, 1e-6, 1e-5, 1e-4, 1e-3, 1e-2, 1e-1, 1], "labelExpr": "'1E' + (datum.value >= 1 ? '+' : '') + format(log(datum.value)/LN10, '.0f')", "title": "線量[Sv/年]"}},
       "stroke": {"field": "s", "type": "nominal", "scale": {"domain": ["Tiger", "Gold Sim"], "range": ["transparent", "#ff00ff"]}, "legend": {"title": null, "orient": "top-right", "offset": 10, "padding": 4, "rowPadding": 8, "strokeColor": "#555", "fillColor": "white", "labelExpr": "datum.label + '  '"}}
     }},
    {"data": {"name": "t2"},
     "mark": {"type": "point", "filled": true, "opacity": 1, "size": 256},
     "encoding": {
       "x": {"field": "t", "type": "quantitative"},
       "y": {"field": "d", "type": "quantitative"},
       "fill": {"field": "s", "type": "nominal", "scale": {"domain": ["Tiger", "Gold Sim"], "range": ["#000080", "#ff00ff"]}, "legend": {"title": null, "orient": "top-right", "offset": 10, "padding": 4, "rowPadding": 8, "strokeColor": "#555", "fillColor": "white", "labelExpr": "datum.label + '  '"}},
       "stroke": {"field": "s", "type": "nominal"},
       "shape": {"field": "s", "type": "nominal", "scale": {"domain": ["Tiger", "Gold Sim"], "range": ["M0,-0.4L0.32,0L0,0.4L-0.32,0Z", "stroke"]}, "legend": {"title": null, "orient": "top-right", "offset": 10, "padding": 4, "rowPadding": 8, "strokeColor": "#555", "fillColor": "white", "labelExpr": "datum.label + '  '"}}
     }}
  ]
},
{
  "width": 512, "height": 307,
  "title": {"text": "グループ３", "orient": "bottom", "frame": "group", "anchor": "middle", "fontSize": 26, "fontWeight": "normal", "font": "Noto Sans CJK JP", "color": "black", "offset": 20},
  "layer": [
    {"data": {"values": [{"label": "最終処分計画の\nレファレンスケース\n廃棄体グループ3"}]},
     "mark": {"type": "rect", "fill": "white", "stroke": "#555", "strokeWidth": 1},
     "encoding": {"x": {"datum": 1.33, "type": "quantitative"}, "x2": {"datum": 463}, "y": {"datum": 0.496, "type": "quantitative"}, "y2": {"datum": 0.00237}}},
    {"data": {"values": [{"label": "最終処分計画の\nレファレンスケース\n廃棄体グループ3"}]},
     "mark": {"type": "text", "lineBreak": "\n", "lineHeight": 19, "fontSize": 14, "font": "Noto Sans CJK JP", "color": "black", "align": "center", "baseline": "middle"},
     "encoding": {"x": {"datum": 24.0, "type": "quantitative"}, "y": {"datum": 0.184, "type": "quantitative"}, "text": {"field": "label"}}},
    {"data": {"name": "g3"},
     "mark": {"type": "line", "strokeWidth": 2.5, "interpolate": "monotone"},
     "encoding": {
       "x": {"field": "t", "type": "quantitative", "scale": {"type": "log", "domain": [1, 100000000], "nice": false}, "axis": {"values": [1, 10, 100, 1000, 10000, 100000, 1000000, 10000000, 100000000], "labelExpr": "'1E+' + format(log(datum.value)/LN10, '.0f')", "title": "時間[年]"}},
       "y": {"field": "d", "type": "quantitative", "scale": {"type": "log", "domain": [1e-12, 1], "nice": false}, "axis": {"values": [1e-12, 1e-11, 1e-10, 1e-9, 1e-8, 1e-7, 1e-6, 1e-5, 1e-4, 1e-3, 1e-2, 1e-1, 1], "labelExpr": "'1E' + (datum.value >= 1 ? '+' : '') + format(log(datum.value)/LN10, '.0f')", "title": "線量[Sv/年]"}},
       "stroke": {"field": "s", "type": "nominal", "scale": {"domain": ["Tiger", "Gold Sim"], "range": ["transparent", "#ff00ff"]}, "legend": {"title": null, "orient": "top-right", "offset": 8, "padding": 2, "rowPadding": 1, "strokeColor": "#555", "fillColor": "white", "labelExpr": "datum.label + '  '"}}
     }},
    {"data": {"name": "t3"},
     "mark": {"type": "point", "filled": true, "opacity": 1, "size": 256},
     "encoding": {
       "x": {"field": "t", "type": "quantitative"},
       "y": {"field": "d", "type": "quantitative"},
       "fill": {"field": "s", "type": "nominal", "scale": {"domain": ["Tiger", "Gold Sim"], "range": ["#000080", "#ff00ff"]}, "legend": {"title": null, "orient": "top-right", "offset": 8, "padding": 2, "rowPadding": 1, "strokeColor": "#555", "fillColor": "white", "labelExpr": "datum.label + '  '"}},
       "stroke": {"field": "s", "type": "nominal"},
       "shape": {"field": "s", "type": "nominal", "scale": {"domain": ["Tiger", "Gold Sim"], "range": ["M0,-0.4L0.32,0L0,0.4L-0.32,0Z", "stroke"]}, "legend": {"title": null, "orient": "top-right", "offset": 8, "padding": 2, "rowPadding": 1, "strokeColor": "#555", "fillColor": "white", "labelExpr": "datum.label + '  '"}}
     }}
  ]
},
{
  "width": 512, "height": 307,
  "title": {"text": "グループ４", "orient": "bottom", "frame": "group", "anchor": "middle", "fontSize": 26, "fontWeight": "normal", "font": "Noto Sans CJK JP", "color": "black", "offset": 20},
  "layer": [
    {"data": {"values": [{"label": "最終処分計画の\nレファレンスケース\n廃棄体グループ4"}]},
     "mark": {"type": "rect", "fill": "white", "stroke": "#555", "strokeWidth": 1},
     "encoding": {"x": {"datum": 1.2, "type": "quantitative"}, "x2": {"datum": 186}, "y": {"datum": 0.453, "type": "quantitative"}, "y2": {"datum": 0.00225}}},
    {"data": {"values": [{"label": "最終処分計画の\nレファレンスケース\n廃棄体グループ4"}]},
     "mark": {"type": "text", "lineBreak": "\n", "lineHeight": 19, "fontSize": 14, "font": "Noto Sans CJK JP", "color": "black", "align": "center", "baseline": "middle"},
     "encoding": {"x": {"datum": 15.0, "type": "quantitative"}, "y": {"datum": 0.184, "type": "quantitative"}, "text": {"field": "label"}}},
    {"data": {"name": "g4"},
     "mark": {"type": "line", "strokeWidth": 2.5, "interpolate": "monotone"},
     "encoding": {
       "x": {"field": "t", "type": "quantitative", "scale": {"type": "log", "domain": [1, 100000000], "nice": false}, "axis": {"values": [1, 10, 100, 1000, 10000, 100000, 1000000, 10000000, 100000000], "labelExpr": "'1E+' + format(log(datum.value)/LN10, '.0f')", "title": "時間[年]"}},
       "y": {"field": "d", "type": "quantitative", "scale": {"type": "log", "domain": [1e-12, 1], "nice": false}, "axis": {"values": [1e-12, 1e-11, 1e-10, 1e-9, 1e-8, 1e-7, 1e-6, 1e-5, 1e-4, 1e-3, 1e-2, 1e-1, 1], "labelExpr": "'1E' + (datum.value >= 1 ? '+' : '') + format(log(datum.value)/LN10, '.0f')", "title": "線量[Sv/年]"}},
       "stroke": {"field": "s", "type": "nominal", "scale": {"domain": ["Tiger", "Gold Sim"], "range": ["transparent", "#ff00ff"]}, "legend": {"title": null, "orient": "top-right", "offset": 9, "padding": 2, "rowPadding": 1, "strokeColor": "#555", "fillColor": "white", "labelExpr": "datum.label + '  '"}}
     }},
    {"data": {"name": "t4"},
     "mark": {"type": "point", "filled": true, "opacity": 1, "size": 256},
     "encoding": {
       "x": {"field": "t", "type": "quantitative"},
       "y": {"field": "d", "type": "quantitative"},
       "fill": {"field": "s", "type": "nominal", "scale": {"domain": ["Tiger", "Gold Sim"], "range": ["#000080", "#ff00ff"]}, "legend": {"title": null, "orient": "top-right", "offset": 9, "padding": 2, "rowPadding": 1, "strokeColor": "#555", "fillColor": "white", "labelExpr": "datum.label + '  '"}},
       "stroke": {"field": "s", "type": "nominal"},
       "shape": {"field": "s", "type": "nominal", "scale": {"domain": ["Tiger", "Gold Sim"], "range": ["M0,-0.4L0.32,0L0,0.4L-0.32,0Z", "stroke"]}, "legend": {"title": null, "orient": "top-right", "offset": 9, "padding": 2, "rowPadding": 1, "strokeColor": "#555", "fillColor": "white", "labelExpr": "datum.label + '  '"}}
     }}
  ]
}
]
}
